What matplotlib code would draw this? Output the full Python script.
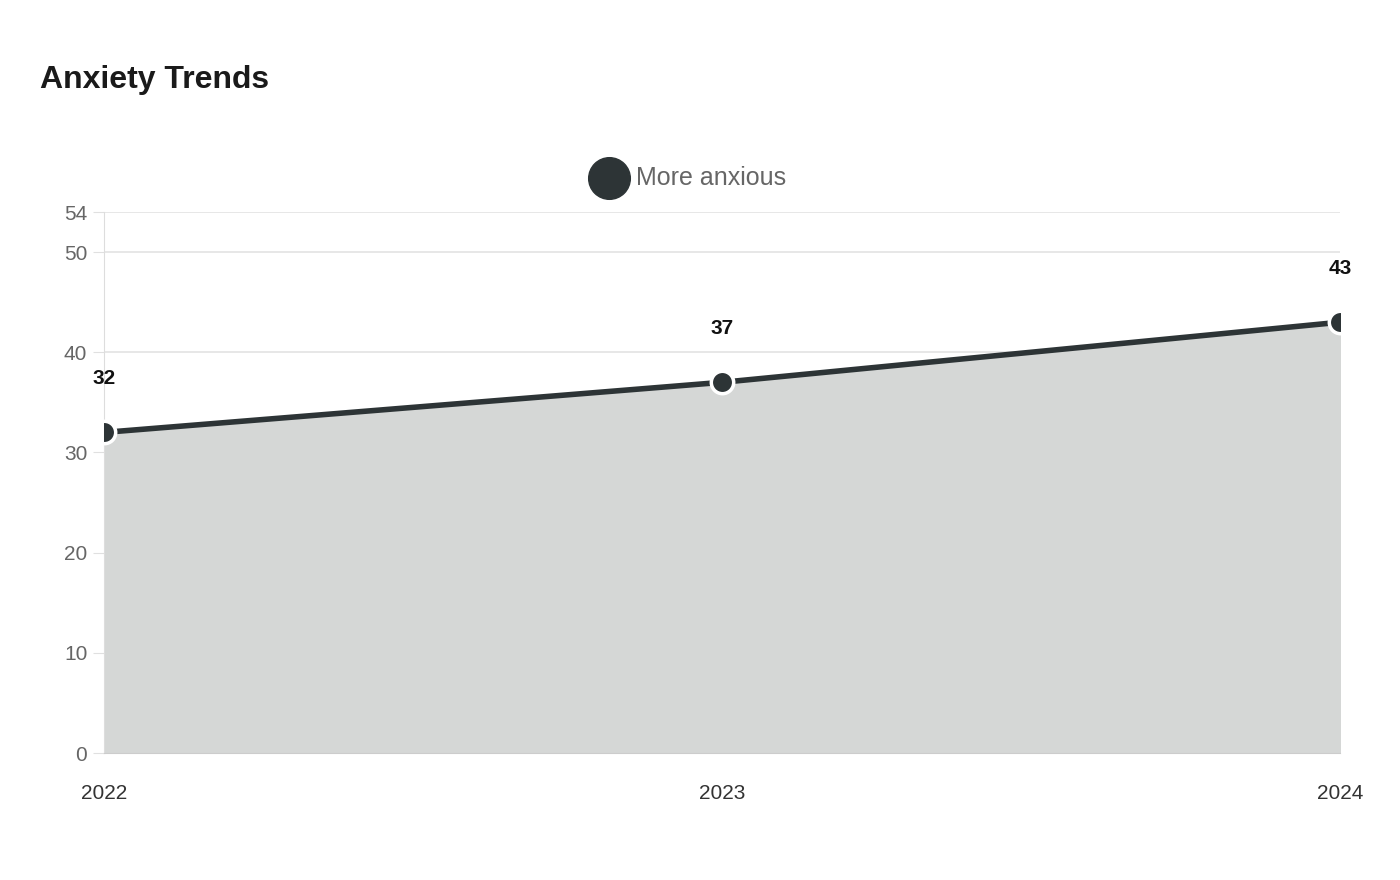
import matplotlib
matplotlib.use("Agg")
import matplotlib.pyplot as plt

plt.rcParams['font.family'] = ['Liberation Sans', 'DejaVu Sans']

years = ['2022', '2023', '2024']
more_anxious = [32, 37, 43]
y_ticks = [0, 10, 20, 30, 40, 50, 54]

line_col = '#2d3436'
fig = plt.figure(figsize=(14, 8.8), dpi=100)
ax = fig.add_axes([104/1400, 127/880, 1236/1400, 541/880])

x = list(range(len(years)))
ax.fill_between(x, more_anxious, 0, color='#d5d7d6', zorder=1)
ax.plot(x, more_anxious, color=line_col, lw=4, zorder=2)
ax.scatter(x, more_anxious, s=260, color=line_col, edgecolor='white', linewidth=2.5, zorder=3)
for xi, v in zip(x, more_anxious):
    ax.annotate(str(v), (xi, v), xytext=(0, 32), textcoords='offset points',
                ha='center', va='bottom', fontsize=15, fontweight='bold', color='#111111')

ax.set_xlim(0, len(years) - 1)
ax.set_ylim(0, 54)
ax.set_yticks(y_ticks)
ax.set_xticks(x)
ax.set_xticklabels(years)
ax.tick_params(axis='y', length=8, color='#e0e0e0', labelsize=15, labelcolor='#666666', pad=4)
ax.tick_params(axis='x', length=0, labelsize=15, labelcolor='#333333', pad=22)
ax.grid(axis='y', color='#e3e3e3', lw=1.2, zorder=0)
ax.set_axisbelow(True)
for s in ['top', 'right']:
    ax.spines[s].set_visible(False)
ax.spines['left'].set_color('#dddddd')
ax.spines['bottom'].set_color('#cccccc')

fig.text(40/1400, 1 - 80/880, 'Anxiety Trends', fontsize=23, fontweight='bold',
         color='#1a1a1a', va='center', ha='left')
ax.scatter([], [], s=900, color=line_col, label='More anxious')
ax.legend(loc='lower center', bbox_to_anchor=(0.47, 1.0), frameon=False, fontsize=18,
          labelcolor='#666666', handletextpad=0.1, markerscale=1)

fig.savefig('out.png')
